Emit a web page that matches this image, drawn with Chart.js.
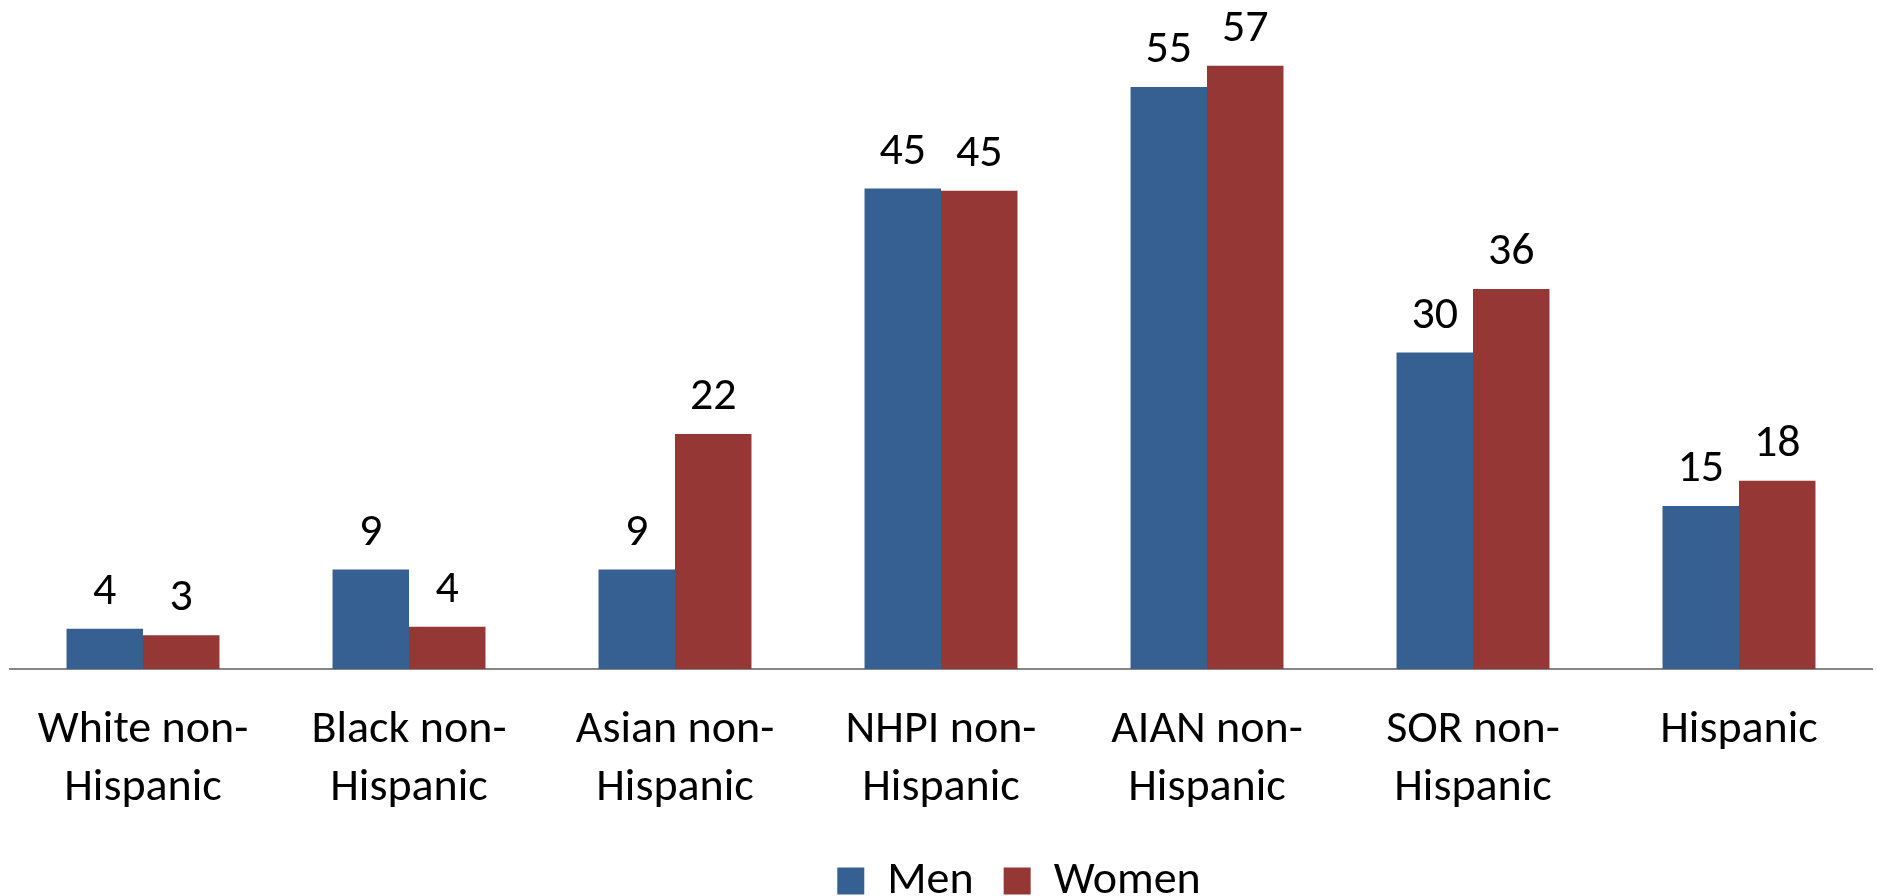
<!DOCTYPE html>
<html><head><meta charset="utf-8">
<script src="https://cdn.jsdelivr.net/npm/chart.js@4"></script>
<style>html,body{margin:0;padding:0;background:#fff}#wrap{width:1877px;height:896px}</style>
</head><body><div id="wrap"><canvas id="c" width="1877" height="896"></canvas></div>
<script>
const categories = [["White non-","Hispanic"],["Black non-","Hispanic"],["Asian non-","Hispanic"],["NHPI non-","Hispanic"],["AIAN non-","Hispanic"],["SOR non-","Hispanic"],["Hispanic"]];
const seriesNames = ["Men", "Women"];
const men = [3.8, 9.4, 9.4, 45.4, 55.0, 29.9, 15.4];
const women = [3.2, 4.0, 22.2, 45.2, 57.0, 35.9, 17.8];
const FONT = "Carlito, Calibri, Lato, sans-serif";
const labelPlugin = {
  id: 'vlabels',
  afterDatasetsDraw(chart) {
    const ctx = chart.ctx;
    ctx.save();
    ctx.fillStyle = '#000';
    ctx.font = '46px ' + FONT;
    ctx.textAlign = 'center';
    ctx.textBaseline = 'alphabetic';
    chart.data.datasets.forEach((ds, i) => {
      chart.getDatasetMeta(i).data.forEach((bar, j) => {
        ctx.fillText(String(Math.round(ds.data[j])), bar.x, bar.y - 25);
      });
    });
    ctx.restore();
  }
};
const legendShift = {
  id: 'legendShift',
  afterLayout(chart) {
    const lg = chart.legend;
    lg.left += 78; lg.right += 78;
    lg.top -= 21; lg.bottom -= 21;
  }
};
new Chart(document.getElementById('c'), {
  type: 'bar',
  data: {
    labels: categories,
    datasets: [
      {label: seriesNames[0], data: men, backgroundColor: '#376092'},
      {label: seriesNames[1], data: women, backgroundColor: '#953735'}
    ]
  },
  options: {
    responsive: false,
    animation: false,
    devicePixelRatio: 1,
    layout: {padding: {left: 10, right: 5, top: 34, bottom: -39}},
    datasets: {bar: {barPercentage: 1, categoryPercentage: 0.575}},
    scales: {
      x: {
        grid: {display: false, drawTicks: false},
        border: {display: true, color: '#868686', width: 2},
        ticks: {color: '#000', font: {family: FONT, size: 46, lineHeight: 1.26}, padding: 32, maxRotation: 0, autoSkip: false}
      },
      y: {display: false, min: 0, max: 60}
    },
    plugins: {
      legend: {
        position: 'bottom',
        labels: {color: '#000', font: {family: FONT, size: 46}, boxWidth: 27, boxHeight: 27, padding: 30}
      },
      tooltip: {enabled: false}
    }
  },
  plugins: [labelPlugin, legendShift]
});
</script></body></html>
